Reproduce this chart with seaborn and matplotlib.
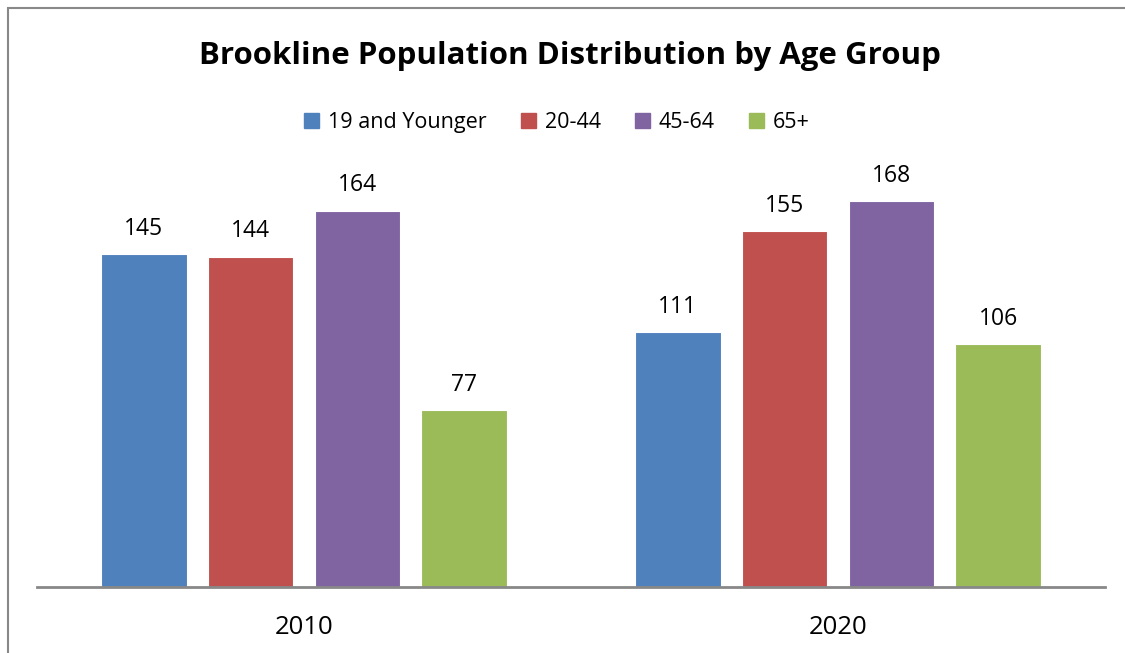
import pandas as pd
import matplotlib.pyplot as plt
import seaborn as sns
from matplotlib.patches import Rectangle

years = ["2010", "2020"]
age_groups = ["19 and Younger", "20-44", "45-64", "65+"]
pop_2010 = [145, 144, 164, 77]
pop_2020 = [111, 155, 168, 106]
colors = ["#4F81BD", "#C0504D", "#8064A2", "#9BBB59"]

rows = []
for year, values in zip(years, [pop_2010, pop_2020]):
    for group, v in zip(age_groups, values):
        rows.append({"year": year, "group": group, "value": v})
df = pd.DataFrame(rows)

sns.set_theme(style="white")
plt.rcParams["font.family"] = ["Open Sans", "DejaVu Sans"]
plt.rcParams["text.color"] = "black"
plt.rcParams["xtick.color"] = "black"

fig = plt.figure(figsize=(11.25, 6.53), dpi=100)
ax = fig.add_axes([0.0329, 0.1011, 0.9493, 0.6325])

sns.barplot(data=df, x="year", y="value", hue="group", hue_order=age_groups,
            palette=colors, width=0.8, gap=0.2, ax=ax, legend=False,
            saturation=1, edgecolor="white", linewidth=0.8)

for container in ax.containers:
    ax.bar_label(container, padding=9.5, fontsize=16.5, color="black")

ax.set_xlim(-0.5, 1.5)
ax.set_ylim(0, 180)
ax.set_xlabel("")
ax.set_ylabel("")
ax.set_yticks([])
ax.tick_params(axis="x", labelsize=18.5, pad=20.5, length=0, labelcolor="black")
for s in ["top", "right", "left"]:
    ax.spines[s].set_visible(False)
ax.spines["bottom"].set_color("#888888")
ax.spines["bottom"].set_linewidth(2)

fig.text(0.507, 0.915, "Brookline Population Distribution by Age Group",
         ha="center", va="center", fontsize=22.5, fontweight="bold", color="black")

handles = [Rectangle((0, 0), 1, 1, color=c) for c in colors]
fig.legend(handles, age_groups, loc="center", bbox_to_anchor=(0.495, 0.812),
           ncol=4, frameon=False, fontsize=15.5, handlelength=0.7,
           handleheight=0.7, handletextpad=0.4, columnspacing=1.6)

# outer chart frame, cropped at right and bottom
fig.patches.append(Rectangle((8 / 1125, -0.1), 1.2, 1 - 8 / 653 + 0.1,
                             transform=fig.transFigure, fill=False,
                             edgecolor="#888888", linewidth=1.5))

fig.savefig("out.png", dpi=100)
